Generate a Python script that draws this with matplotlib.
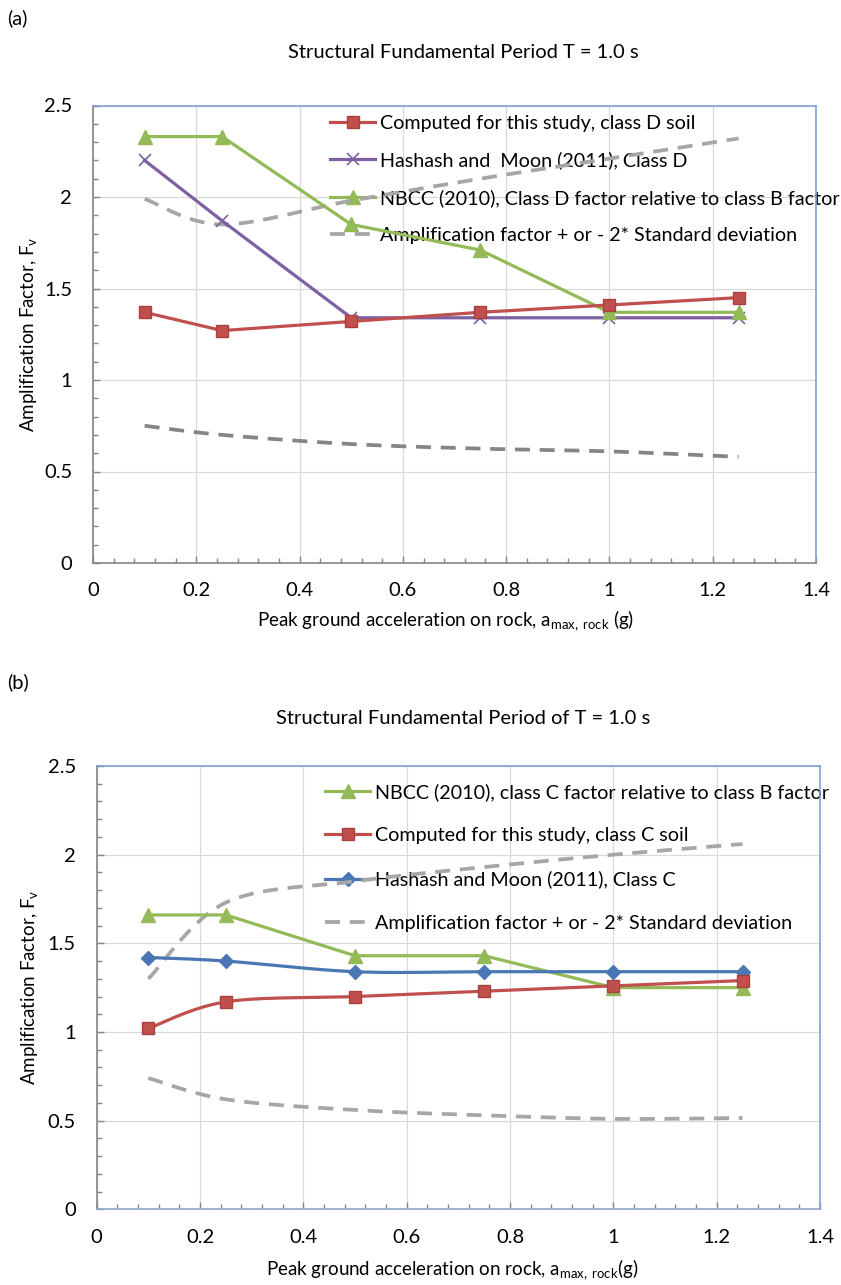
import numpy as np
import matplotlib
matplotlib.use("Agg")
import matplotlib.pyplot as plt
from matplotlib.ticker import MultipleLocator
from matplotlib.lines import Line2D

plt.rcParams['font.family'] = ['Lato', 'DejaVu Sans']
plt.rcParams['mathtext.fontset'] = 'custom'
plt.rcParams['mathtext.rm'] = 'Lato'
plt.rcParams['mathtext.it'] = 'Lato:italic'

# ---------------- data ----------------
pga = [0.1, 0.25, 0.5, 0.75, 1.0, 1.25]

# panel (a) class D
a_computed = [1.37, 1.27, 1.32, 1.37, 1.41, 1.45]
a_hashash = [2.20, 1.87, 1.34, 1.34, 1.34, 1.34]
a_nbcc = [2.33, 2.33, 1.85, 1.71, 1.37, 1.37]
a_upper = [1.99, 1.85, 1.98, 2.10, 2.21, 2.32]
a_lower = [0.75, 0.70, 0.65, 0.625, 0.61, 0.58]

# panel (b) class C
b_nbcc = [1.66, 1.66, 1.43, 1.43, 1.25, 1.25]
b_computed = [1.02, 1.17, 1.20, 1.23, 1.26, 1.29]
b_hashash = [1.42, 1.40, 1.34, 1.34, 1.34, 1.34]
b_upper = [1.30, 1.73, 1.85, 1.93, 2.00, 2.06]
b_lower = [0.74, 0.62, 0.56, 0.53, 0.51, 0.515]

a_labels = ["Computed for this study, class D soil",
            "Hashash and  Moon (2011), Class D",
            "NBCC (2010), Class D factor relative to class B factor",
            "Amplification factor + or - 2* Standard deviation"]
b_labels = ["NBCC (2010), class C factor relative to class B factor",
            "Computed for this study, class C soil",
            "Hashash and Moon (2011), Class C",
            "Amplification factor + or - 2* Standard deviation"]

RED = '#C0504D'
PURPLE = '#7E5FA3'
GREEN = '#94B957'
BLUE = '#4A77B4'
GRAY = '#A6A6A6'
DGRAY = '#858585'
AXG = '#868686'
BORDER = '#7FA1D4'

FS_LEG = 14.2
FS_TICK = 14.5
FS_LAB = 13.5
FS_TITLE = 14.5


def smooth(x, y, n=30):
    """Excel-style smoothed line (cubic Bezier through points)."""
    P = np.column_stack([x, y]).astype(float)
    m = len(P)
    out = []
    for i in range(m - 1):
        p0 = P[max(i - 1, 0)]
        p1 = P[i]
        p2 = P[i + 1]
        p3 = P[min(i + 2, m - 1)]
        c1 = p1 + (p2 - p0) / 6.0
        c2 = p2 - (p3 - p1) / 6.0
        t = np.linspace(0, 1, n)[:, None]
        seg = ((1 - t) ** 3) * p1 + 3 * ((1 - t) ** 2) * t * c1 + 3 * (1 - t) * t ** 2 * c2 + t ** 3 * p2
        out.append(seg if i == 0 else seg[1:])
    S = np.vstack(out)
    return S[:, 0], S[:, 1]


W, H = 841, 1285
fig = plt.figure(figsize=(W / 100, H / 100), dpi=100)


def px_axes(l, t, r, b):
    return fig.add_axes([l / W, 1 - b / H, (r - l) / W, (b - t) / H])


def style_axes(ax, bottom_color):
    ax.set_xlim(0, 1.4)
    ax.set_ylim(0, 2.5)
    ax.xaxis.set_major_locator(MultipleLocator(0.2))
    ax.xaxis.set_minor_locator(MultipleLocator(0.04))
    ax.yaxis.set_major_locator(MultipleLocator(0.5))
    ax.yaxis.set_minor_locator(MultipleLocator(0.1))
    fmt = matplotlib.ticker.FuncFormatter(lambda v, p: ('%g' % round(v, 2)))
    ax.xaxis.set_major_formatter(fmt)
    ax.yaxis.set_major_formatter(fmt)
    ax.grid(True, which='major', color='#D9D9D9', linewidth=0.9)
    ax.set_axisbelow(True)
    ax.tick_params(which='both', direction='in', color=AXG, labelsize=FS_TICK, labelcolor='#000000')
    ax.tick_params(which='major', length=5, width=1)
    ax.tick_params(which='minor', length=3.5, width=1)
    ax.tick_params(axis='x', which='major', pad=14)
    ax.tick_params(axis='y', which='major', pad=15)
    ax.spines['left'].set_color(AXG)
    ax.spines['bottom'].set_color(bottom_color)
    ax.spines['top'].set_color(BORDER)
    ax.spines['right'].set_color(BORDER)
    for s in ax.spines.values():
        s.set_linewidth(1.2)


LW = 2.3
DASH = (4, 2.6)

# ---------------- panel (a) ----------------
ax1 = px_axes(93, 105.5, 816, 563)
style_axes(ax1, AXG)
xs, ys = smooth(pga, a_upper)
ax1.plot(xs, ys, color=GRAY, lw=LW + 0.4, dashes=DASH, zorder=2)
xs, ys = smooth(pga, a_lower)
ax1.plot(xs, ys, color=DGRAY, lw=LW + 0.4, dashes=DASH, zorder=2)
ax1.plot(pga, a_computed, color=RED, lw=LW, marker='s', ms=9, mfc=RED, mec='#A8403D', zorder=4)
ax1.plot(pga, a_hashash, color=PURPLE, lw=LW, marker='x', ms=9, mew=1.2, mec=PURPLE, zorder=3)
ax1.plot(pga, a_nbcc, color=GREEN, lw=LW, marker='^', ms=10, mfc=GREEN, mec=GREEN, zorder=3)

h1 = [Line2D([], [], color=RED, lw=LW, marker='s', ms=9, mfc=RED, mec='#A8403D'),
      Line2D([], [], color=PURPLE, lw=LW, marker='x', ms=9, mew=1.2),
      Line2D([], [], color=GREEN, lw=LW, marker='^', ms=10),
      Line2D([], [], color=GRAY, lw=LW + 0.4, dashes=DASH)]
leg1 = ax1.legend(h1, a_labels, loc='upper left', bbox_to_anchor=(0.328, 0.98),
                  frameon=False, fontsize=FS_LEG, handlelength=2.28, handletextpad=0.25,
                  labelspacing=1.0, borderpad=0, borderaxespad=0)
leg1.set_zorder(1)

ax1.set_ylabel('Amplification Factor, F$_{\\mathrm{v}}$', fontsize=FS_LAB)
ax1.yaxis.set_label_coords(-0.074, 0.5)
fig.text(446 / W, 1 - 621 / H, 'Peak ground acceleration on rock, a$_{\\mathrm{max,\\ rock}}$ (g)',
         ha='center', va='center', fontsize=FS_LAB)
fig.text(7 / W, 1 - 18 / H, '(a)', ha='left', va='center', fontsize=FS_TITLE)
fig.text(463 / W, 1 - 53 / H, 'Structural Fundamental Period T = 1.0 s', ha='center', va='center',
         fontsize=FS_TITLE)

# ---------------- panel (b) ----------------
ax2 = px_axes(96.7, 766, 820, 1209.3)
style_axes(ax2, '#8FA6C8')
xs, ys = smooth(pga, b_upper)
ax2.plot(xs, ys, color=GRAY, lw=LW + 0.4, dashes=DASH, zorder=2)
xs, ys = smooth(pga, b_lower)
ax2.plot(xs, ys, color=GRAY, lw=LW + 0.4, dashes=DASH, zorder=2)
ax2.plot(pga, b_nbcc, color=GREEN, lw=LW, marker='^', ms=10, mfc=GREEN, mec=GREEN, zorder=3)
xs, ys = smooth(pga, b_computed)
ax2.plot(xs, ys, color=RED, lw=LW, zorder=4)
ax2.plot(pga, b_computed, ls='none', marker='s', ms=9, mfc=RED, mec='#A8403D', zorder=4)
xs, ys = smooth(pga, b_hashash)
ax2.plot(xs, ys, color=BLUE, lw=LW, zorder=3)
ax2.plot(pga, b_hashash, ls='none', marker='D', ms=7.5, mfc=BLUE, mec=BLUE, zorder=3)

h2 = [Line2D([], [], color=GREEN, lw=LW, marker='^', ms=10),
      Line2D([], [], color=RED, lw=LW, marker='s', ms=9, mfc=RED, mec='#A8403D'),
      Line2D([], [], color=BLUE, lw=LW, marker='D', ms=7.5),
      Line2D([], [], color=GRAY, lw=LW + 0.4, dashes=DASH)]
leg2 = ax2.legend(h2, b_labels, loc='upper left', bbox_to_anchor=(0.316, 0.962),
                  frameon=False, fontsize=FS_LEG, handlelength=2.28, handletextpad=0.25,
                  labelspacing=1.34, borderpad=0, borderaxespad=0)
leg2.set_zorder(1)

ax2.set_ylabel('Amplification Factor, F$_{\\mathrm{v}}$', fontsize=FS_LAB)
ax2.yaxis.set_label_coords(-0.079, 0.5)
fig.text(452 / W, 1 - 1270 / H, 'Peak ground acceleration on rock, a$_{\\mathrm{max,\\ rock}}$(g)',
         ha='center', va='center', fontsize=FS_LAB)
fig.text(7 / W, 1 - 682 / H, '(b)', ha='left', va='center', fontsize=FS_TITLE)
fig.text(463 / W, 1 - 718 / H, 'Structural Fundamental Period of T = 1.0 s', ha='center', va='center',
         fontsize=FS_TITLE)

fig.savefig('out.png', dpi=100)
